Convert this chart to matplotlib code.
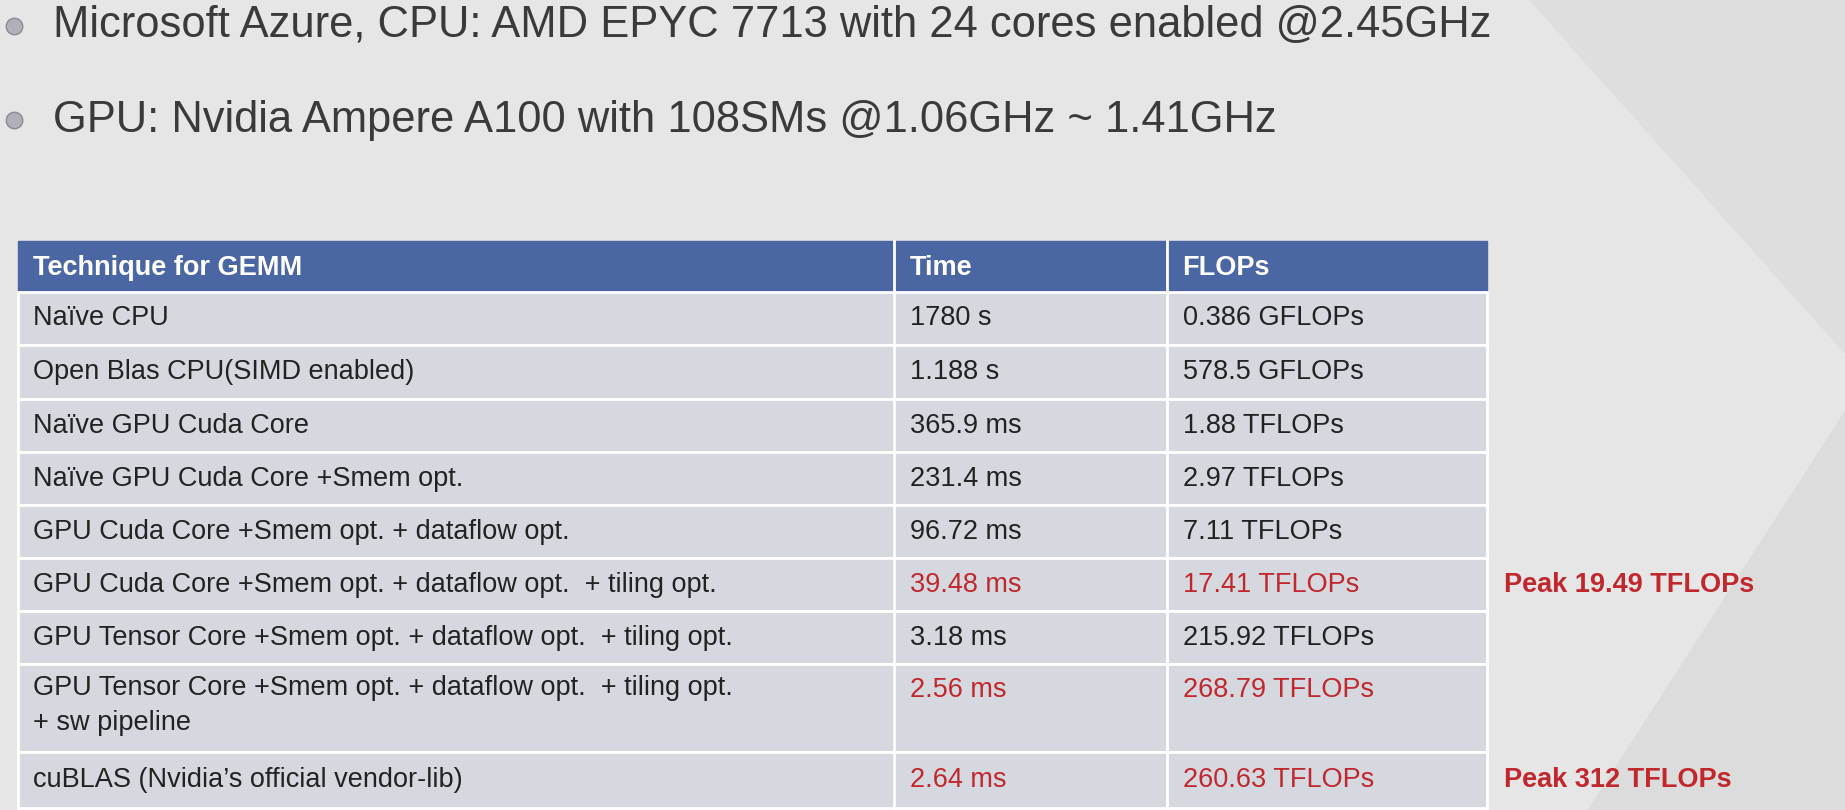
import matplotlib.pyplot as plt
from matplotlib.patches import Rectangle, Polygon

plt.rcParams['font.family'] = ['Liberation Sans', 'DejaVu Sans']

bullets = ["Microsoft Azure, CPU: AMD EPYC 7713 with 24 cores enabled @2.45GHz",
           "GPU: Nvidia Ampere A100 with 108SMs @1.06GHz ~ 1.41GHz"]
headers = ["Technique for GEMM", "Time", "FLOPs"]
techniques = ["Naïve CPU", "Open Blas CPU(SIMD enabled)", "Naïve GPU Cuda Core",
              "Naïve GPU Cuda Core +Smem opt.", "GPU Cuda Core +Smem opt. + dataflow opt.",
              "GPU Cuda Core +Smem opt. + dataflow opt.  + tiling opt.",
              "GPU Tensor Core +Smem opt. + dataflow opt.  + tiling opt.",
              "GPU Tensor Core +Smem opt. + dataflow opt.  + tiling opt.\n+ sw pipeline",
              "cuBLAS (Nvidia’s official vendor-lib)"]
times = ["1780 s", "1.188 s", "365.9 ms", "231.4 ms", "96.72 ms", "39.48 ms", "3.18 ms", "2.56 ms", "2.64 ms"]
flops = ["0.386 GFLOPs", "578.5 GFLOPs", "1.88 TFLOPs", "2.97 TFLOPs", "7.11 TFLOPs",
         "17.41 TFLOPs", "215.92 TFLOPs", "268.79 TFLOPs", "260.63 TFLOPs"]
highlight = [False, False, False, False, False, True, False, True, True]
notes = ["", "", "", "", "", "Peak 19.49 TFLOPs", "", "", "Peak 312 TFLOPs"]

RED = "#c0282d"
W, H = 1568, 688
S = 1845 / 1568
fig = plt.figure(figsize=(18.45, 8.1), dpi=100)
ax = fig.add_axes([0, 0, 1, 1])
ax.set_xlim(0, W); ax.set_ylim(H, 0); ax.axis("off")
fig.patch.set_facecolor("#e6e6e6")
ax.add_patch(Polygon([[1300, 0], [1568, 0], [1568, 300]], color="#dedede", zorder=0))
ax.add_patch(Polygon([[1350, 688], [1568, 350], [1568, 688]], color="#dcdcdc", zorder=0))

def pt(px):
    return px * S * 0.72

for y, b in zip([22, 102], bullets):
    ax.plot(12, y, "o", ms=pt(14), mfc="#b0b0b8", mec="#8a8a95")
    ax.text(45, y, b, fontsize=pt(37), va="center", color="#3a3a3a")

cols = [15, 760, 992, 1264]
bounds = [205, 248, 293, 339, 384, 429, 474, 519, 564, 639, 686]
ax.add_patch(Rectangle((cols[0], bounds[0]), cols[3] - cols[0], bounds[1] - bounds[0],
                       color="#4a66a3", zorder=1))
for i, h in enumerate(headers):
    ax.text(cols[i] + 13, (bounds[0] + bounds[1]) / 2 + 1, h, fontsize=pt(23), weight="bold",
            color="white", va="center", zorder=3)
for r in range(len(techniques)):
    y0, y1 = bounds[r + 1], bounds[r + 2]
    ax.add_patch(Rectangle((cols[0], y0), cols[3] - cols[0], y1 - y0,
                           facecolor="#d6d8df", edgecolor="white", lw=2, zorder=1))
    yc = (y0 + y1) / 2 if r != 7 else y0 + 22
    if r == 7:
        ax.text(cols[0] + 13, y0 + 9, techniques[r], fontsize=pt(23), color="#222222",
                va="top", linespacing=1.45, zorder=3)
    else:
        ax.text(cols[0] + 13, yc, techniques[r], fontsize=pt(23), color="#222222",
                va="center", zorder=3)
    c = RED if highlight[r] else "#222222"
    ax.text(cols[1] + 13, yc, times[r], fontsize=pt(23), color=c, va="center", zorder=3)
    ax.text(cols[2] + 13, yc, flops[r], fontsize=pt(23), color=c, va="center", zorder=3)
    if notes[r]:
        ax.text(1278, yc, notes[r], fontsize=pt(23), weight="bold", color=RED, va="center", zorder=3)
for x in cols[1:3]:
    ax.plot([x, x], [bounds[0], bounds[-1]], color="white", lw=2, zorder=2)

fig.savefig("out.png", dpi=100, facecolor=fig.get_facecolor())
